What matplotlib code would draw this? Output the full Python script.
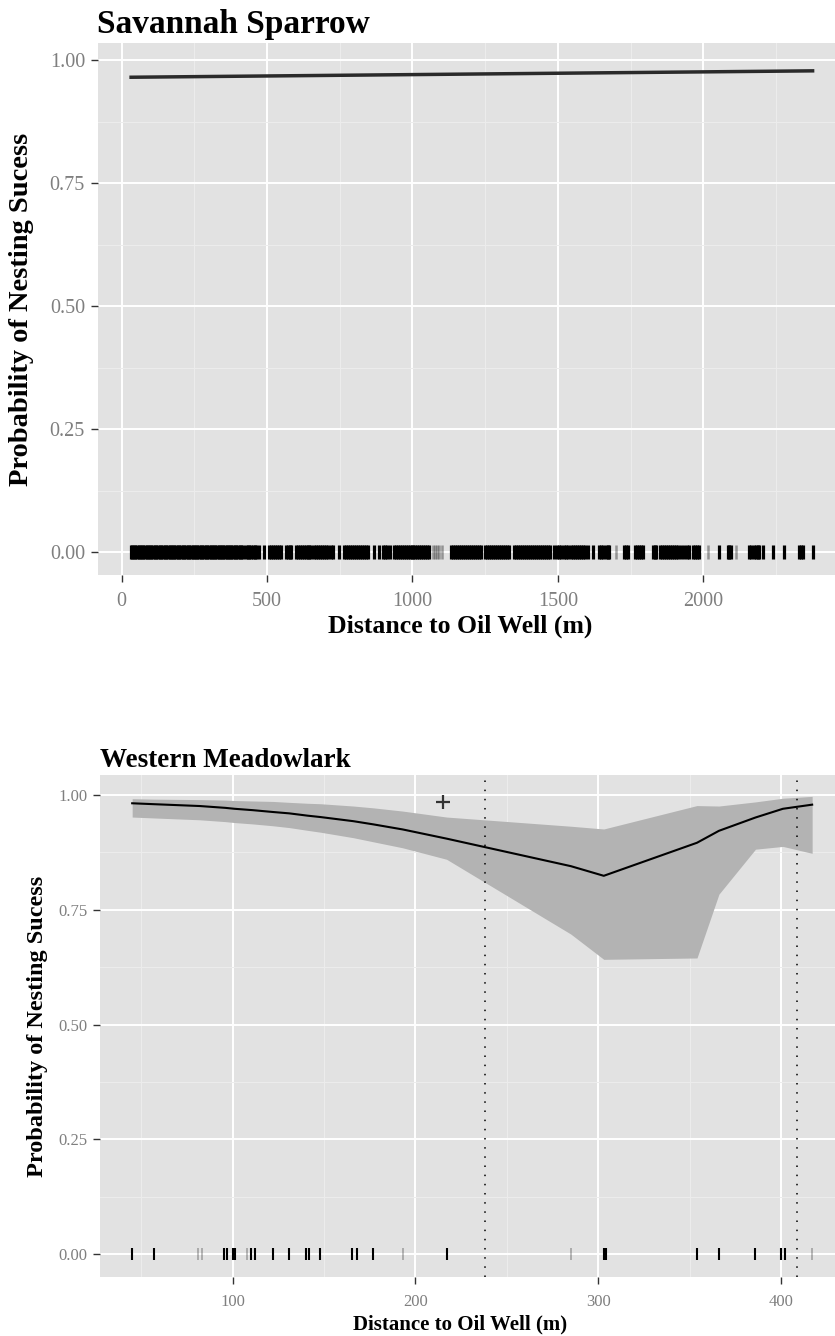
import numpy as np
import matplotlib
matplotlib.use("Agg")
import matplotlib.pyplot as plt
from matplotlib.ticker import MultipleLocator

plt.rcParams['font.family'] = ['Liberation Serif', 'DejaVu Serif']

# ---- Savannah Sparrow (top panel) ----
sp_fit_x = [33, 2375]
sp_fit_y = [0.965, 0.978]
sp_rug = [
    33, 37, 42, 48, 53, 59, 64, 70, 75, 81, 87, 92, 98, 103, 109, 115, 120, 126,
    131, 137, 143, 148, 154, 160, 165, 171, 176, 182, 188, 193, 199, 205, 210,
    216, 221, 227, 233, 238, 244, 249, 255, 261, 266, 272, 277, 283, 289, 294,
    300, 306, 311, 317, 322, 328, 334, 339, 345, 350, 356, 362, 367, 373, 378,
    384, 390, 395, 401, 407, 412, 417,
    428, 433, 439, 446, 452, 458, 463, 474, 491,
    508, 514, 520, 527, 534, 541, 549, 566, 572, 578, 583,
    600, 606, 613, 619, 626, 633, 640, 646, 652,
    663, 669, 676, 682, 690, 697, 704, 711, 719, 726, 747,
    766, 772, 779, 785, 792, 799, 806, 813, 820, 827, 834, 840, 846, 869, 884,
    900, 907, 914, 921,
    938, 944, 951, 957, 964, 970, 977, 983, 990, 997, 1003, 1010, 1016, 1023,
    1030, 1036, 1043, 1050, 1058,
    1133, 1139, 1146, 1152, 1159, 1166, 1172, 1179, 1186, 1193, 1200, 1207,
    1214, 1221, 1228, 1236,
    1250, 1256, 1262, 1269, 1276, 1283, 1290, 1297, 1304, 1311, 1318, 1326, 1333,
    1350, 1356, 1363, 1369, 1376, 1383, 1390, 1396, 1403, 1410, 1417, 1424,
    1431, 1438, 1445, 1452, 1459, 1465, 1471,
    1488, 1495, 1503, 1511,
    1522, 1529, 1536, 1544, 1551, 1557, 1564, 1571, 1578, 1586, 1594, 1602,
    1619, 1642, 1648, 1654, 1665, 1671, 1677, 1728, 1734, 1740,
    1763, 1770, 1777, 1784, 1791, 1826, 1832, 1837,
    1851, 1858, 1866, 1871, 1878, 1886, 1893, 1900, 1906, 1914, 1923,
    1934, 1942, 1951, 1963, 1970, 1978, 1986,
    2055, 2083, 2089, 2095, 2158, 2165, 2172, 2179, 2186, 2192, 2203,
    2238, 2278, 2330, 2336, 2341, 2375,
]
sp_rug_faint = [1069, 1076, 1084, 1092, 1103, 1700, 2015, 2112]
sp_xticks = [0, 500, 1000, 1500, 2000]

# ---- Western Meadowlark (bottom panel) ----
wm_x = [45, 57, 82, 96, 101, 111, 122, 131, 141, 148, 166, 177, 193, 217,
        285, 303, 354, 366, 386, 401, 417]
wm_fit = [0.982, 0.980, 0.976, 0.972, 0.970, 0.967, 0.963, 0.960, 0.955, 0.952,
          0.943, 0.936, 0.925, 0.905, 0.845, 0.824, 0.896, 0.922, 0.951, 0.970,
          0.979]
wm_upper = [0.992, 0.991, 0.990, 0.989, 0.988, 0.987, 0.986, 0.984, 0.982, 0.981,
            0.976, 0.972, 0.965, 0.952, 0.932, 0.926, 0.977, 0.976, 0.985, 0.993,
            0.997]
wm_lower = [0.952, 0.950, 0.946, 0.942, 0.940, 0.937, 0.933, 0.929, 0.923, 0.919,
            0.907, 0.898, 0.885, 0.860, 0.697, 0.642, 0.645, 0.784, 0.882, 0.888,
            0.873]
wm_rug = [45, 57, 95, 97, 100, 101, 110, 112, 122, 131, 140, 142, 148, 165, 168,
          177, 217, 303, 304, 354, 366, 386, 400, 402]
wm_rug_faint = [81, 83, 108, 193, 285, 417]
wm_vlines = [238, 408.5]
wm_plus = (215, 0.984)
wm_xticks = [100, 200, 300, 400]

yticks = [0.0, 0.25, 0.5, 0.75, 1.0]
ylabels = ['0.00', '0.25', '0.50', '0.75', '1.00']

W, H = 835, 1336
fig = plt.figure(figsize=(W / 100, H / 100), dpi=100)


def px(x):
    return x / W


def py(y):
    return 1 - y / H


def style_axes(ax, tick_size):
    ax.set_facecolor('#e2e2e2')
    for s in ax.spines.values():
        s.set_visible(False)
    ax.grid(which='major', color='white', lw=1.4, zorder=0)
    ax.grid(which='minor', color='#ededed', lw=0.7, zorder=0)
    ax.set_axisbelow(True)
    ax.tick_params(which='major', length=5, width=1.0, color='#333333',
                   labelcolor='#7f7f7f', labelsize=tick_size, pad=4)
    ax.tick_params(axis='x', pad=7)
    ax.tick_params(which='minor', length=0)
    ax.set_yticks(yticks)
    ax.set_yticklabels(ylabels)
    ax.yaxis.set_minor_locator(MultipleLocator(0.125))


# top panel
ax1 = fig.add_axes([px(97.5), py(575), 1 - px(97.5), (575 - 43) / H])
style_axes(ax1, 14.5)
ax1.set_xlim(-82.5, 2452)
ax1.set_ylim(-0.0467, 1.0346)
ax1.set_xticks(sp_xticks)
ax1.xaxis.set_minor_locator(MultipleLocator(250))
ax1.plot(sp_fit_x, sp_fit_y, color='#2a2a2a', lw=2.5, zorder=3)
ax1.plot(sp_rug, np.zeros(len(sp_rug)), '|', color='black',
         ms=9.6, mew=2.3, zorder=3)
ax1.plot(sp_rug_faint, np.zeros(len(sp_rug_faint)), '|', color='black',
         alpha=0.35, ms=9.6, mew=1.8, zorder=3)

fig.text(px(97), py(33), 'Savannah Sparrow', fontsize=24, weight='bold',
         va='baseline', ha='left')
fig.text(px(460), py(633), 'Distance to Oil Well (m)', fontsize=18.5,
         weight='bold', va='baseline', ha='center')
fig.text(px(22), py(309), 'Probability of Nesting Sucess', fontsize=20.5,
         weight='bold', rotation=90, va='center', ha='center')

# bottom panel
ax2 = fig.add_axes([px(100), py(1277), 1 - px(100), (1277 - 775) / H])
style_axes(ax2, 12)
ax2.set_xlim(27.4, 429.5)
ax2.set_ylim(-0.05, 1.0436)
ax2.set_xticks(wm_xticks)
ax2.xaxis.set_minor_locator(MultipleLocator(50))
ax2.fill_between(wm_x, wm_lower, wm_upper, color='#b3b3b3', lw=0, zorder=2)
ax2.plot(wm_x, wm_fit, color='black', lw=1.5, zorder=3)
for v in wm_vlines:
    ax2.axvline(v, color='black', lw=1.1, ls=(0, (1, 5)), zorder=3)
ax2.plot([wm_plus[0]], [wm_plus[1]], '+', color='#333333', ms=10, mew=1.6,
         zorder=4)
ax2.plot(wm_rug, np.zeros(len(wm_rug)), '|', color='black', ms=8.6, mew=1.5,
         zorder=3)
ax2.plot(wm_rug_faint, np.zeros(len(wm_rug_faint)), '|', color='black',
         alpha=0.25, ms=8.6, mew=1.4, zorder=3)

fig.text(px(100), py(767), 'Western Meadowlark', fontsize=19.5, weight='bold',
         va='baseline', ha='left')
fig.text(px(460), py(1329), 'Distance to Oil Well (m)', fontsize=15,
         weight='bold', va='baseline', ha='center')
fig.text(px(38), py(1026), 'Probability of Nesting Sucess', fontsize=17.5,
         weight='bold', rotation=90, va='center', ha='center')

fig.savefig('out.png', dpi=100)
